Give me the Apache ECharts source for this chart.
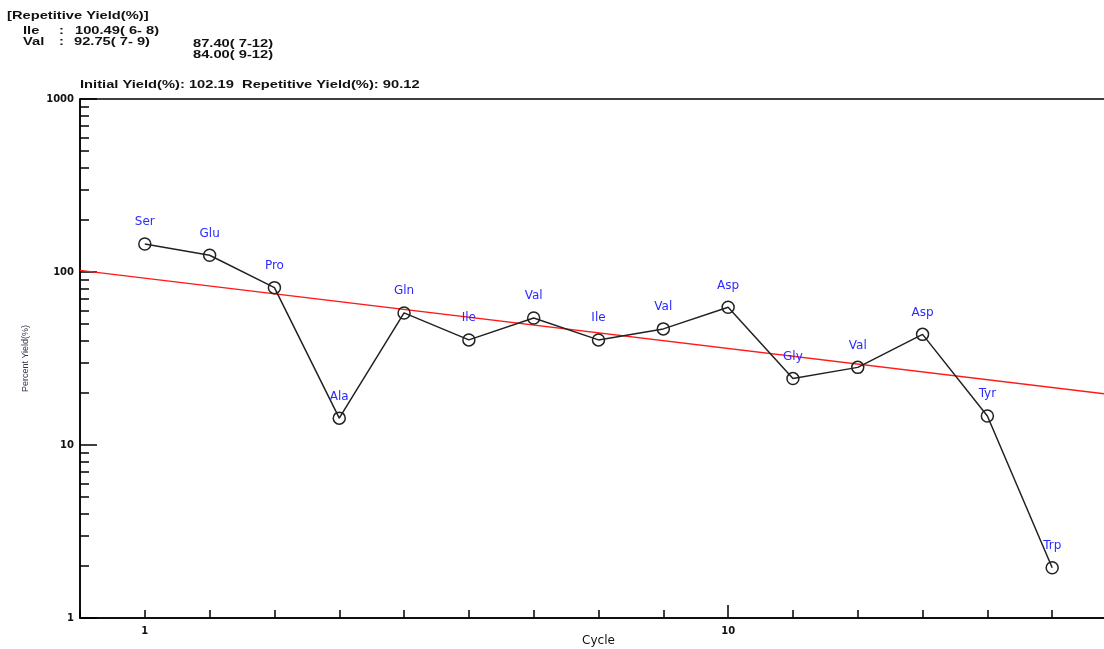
<!DOCTYPE html>
<html>
<head>
<meta charset="utf-8">
<script src="https://cdn.jsdelivr.net/npm/echarts@6/dist/echarts.min.js"></script>
<style>
html,body{margin:0;padding:0;background:#fff;overflow:hidden;}
#chart{width:1104px;height:649px;}
</style>
</head>
<body>
<div id="chart"></div>
<script>
const cycles = [1, 2, 3, 4, 5, 6, 7, 8, 9, 10, 11, 12, 13, 14, 15];
const residues = ['Ser', 'Glu', 'Pro', 'Ala', 'Gln', 'Ile', 'Val', 'Ile', 'Val', 'Asp', 'Gly', 'Val', 'Asp', 'Tyr', 'Trp'];
const yields = [145, 125, 81.2, 14.3, 58, 40.5, 54.2, 40.5, 46.9, 62.5, 24.2, 28.1, 43.6, 14.7, 1.95];
const fitLine = [[0, 102.19], [16, 19.4]];
const xLabelValues = [1, 10];
const yMinorTicks = [2, 3, 4, 5, 6, 7, 8, 9, 20, 30, 40, 50, 60, 70, 80, 90, 200, 300, 400, 500, 600, 700, 800, 900];
const headerTitle = '[Repetitive Yield(%)]';
const headerNames = ['Ile', 'Val'];
const headerVals = ['100.49( 6- 8)', '92.75( 7- 9)'];
const headerCol2 = ['87.40( 7-12)', '84.00( 9-12)'];
const subtitle = 'Initial Yield(%): 102.19  Repetitive Yield(%): 90.12';

const chart = echarts.init(document.getElementById('chart'), null, {renderer: 'canvas'});
const FONT = 'Liberation Sans, Arial, sans-serif';
const LFONT = 'DejaVu Sans, sans-serif';
const txt = (x, y, s) => ({type: 'text', x: x, y: y, scaleX: 1.47, scaleY: 1,
  style: {text: s, fill: '#111', font: 'bold 10px ' + FONT, textVerticalAlign: 'top'}});

const option = {
  backgroundColor: '#fff',
  animation: false,
  grid: {left: 80, width: 1037, top: 99, height: 519, outerBoundsMode: 'none', containLabel: false,
    show: true, borderColor: '#000', borderWidth: 1.5, backgroundColor: 'transparent'},
  graphic: [
    txt(7, 11, headerTitle),
    txt(23, 26, headerNames[0]),
    txt(23, 37, headerNames[1]),
    txt(59, 26, ':'),
    txt(59, 37, ':'),
    txt(75, 26, headerVals[0]),
    txt(74, 37, headerVals[1]),
    txt(193, 39, headerCol2[0]),
    txt(193, 50, headerCol2[1]),
    txt(80, 80, subtitle)
  ],
  xAxis: [{
    type: 'value', min: 0, max: 16, interval: 1,
    name: 'Cycle', nameLocation: 'middle', nameGap: 17, nameMoveOverlap: false,
    nameTextStyle: {color: '#111', fontSize: 12, fontFamily: LFONT, verticalAlign: 'top'},
    axisLine: {show: true, lineStyle: {color: '#000', width: 1.5}},
    axisTick: {show: true, inside: true, length: 8, lineStyle: {color: '#000', width: 1.5}},
    axisLabel: {color: '#111', fontSize: 10, fontWeight: 'bold', fontFamily: LFONT, margin: 8,
      formatter: v => xLabelValues.indexOf(v) >= 0 ? String(v) : ''},
    splitLine: {show: false}
  }, {
    type: 'value', min: 0, max: 16, position: 'bottom',
    axisLine: {show: false},
    axisTick: {show: true, inside: true, length: 13, customValues: [10], lineStyle: {color: '#000', width: 1.5}},
    axisLabel: {show: false},
    splitLine: {show: false}
  }],
  yAxis: [{
    type: 'log', logBase: 10, min: 1, max: 1000,
    name: 'Percent Yield(%)', nameLocation: 'middle', nameGap: 50, nameRotate: 90, nameMoveOverlap: false,
    nameTextStyle: {color: '#3a2f4a', fontSize: 9, fontFamily: FONT},
    axisLine: {show: true, lineStyle: {color: '#000', width: 1.5}},
    axisTick: {show: true, inside: true, length: 17, lineStyle: {color: '#000', width: 1.5}},
    axisLabel: {color: '#111', fontSize: 10, fontWeight: 'bold', fontFamily: LFONT, margin: 6, formatter: v => String(v)},
    splitLine: {show: false}
  }, {
    type: 'log', logBase: 10, min: 1, max: 1000, position: 'left',
    axisLine: {show: false},
    axisTick: {show: true, inside: true, length: 9, customValues: yMinorTicks, lineStyle: {color: '#000', width: 1.5}},
    axisLabel: {show: false},
    splitLine: {show: false}
  }],
  series: [{
    type: 'line',
    data: fitLine,
    showSymbol: false,
    symbol: 'none',
    lineStyle: {color: '#ff1a1a', width: 1.5},
    z: 2
  }, {
    type: 'line',
    data: cycles.map((c, i) => [c, yields[i]]),
    symbol: 'circle', symbolSize: 12,
    itemStyle: {color: 'rgba(255,255,255,0)', borderColor: '#222', borderWidth: 1.5},
    lineStyle: {color: '#222', width: 1.5},
    label: {show: true, position: 'top', distance: 9,
      formatter: p => residues[p.dataIndex],
      color: '#2a2aff', fontSize: 12, fontFamily: LFONT},
    z: 3
  }]
};
chart.setOption(option);
</script>
</body>
</html>
